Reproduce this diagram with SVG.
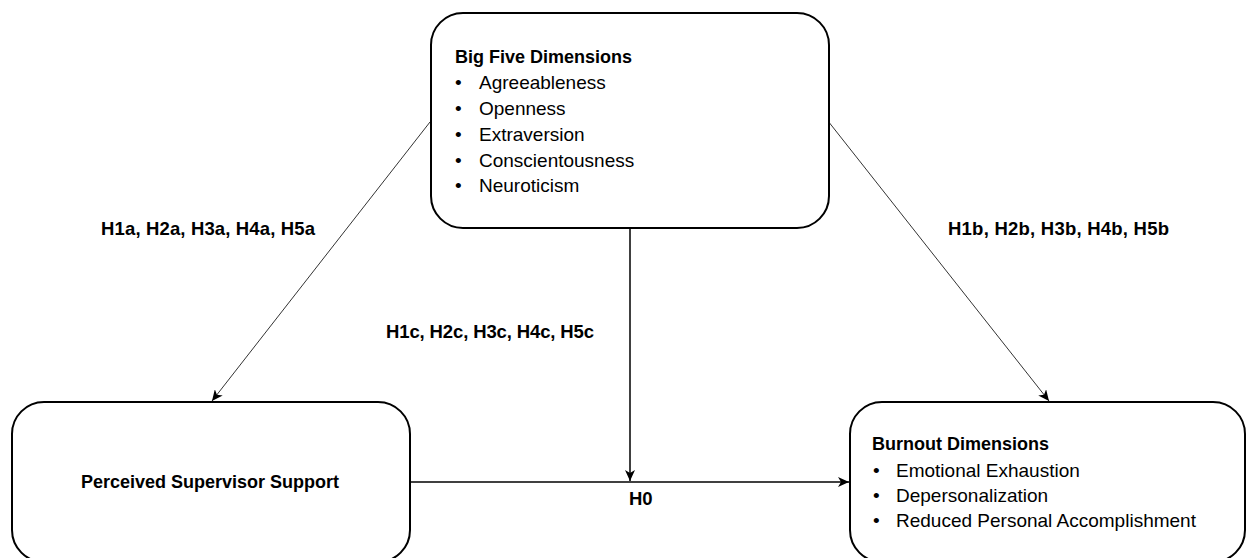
<svg xmlns="http://www.w3.org/2000/svg" width="1247" height="558" viewBox="0 0 1247 558">
<defs>
<style>
.box{fill:#fff;stroke:#000;stroke-width:2}
.t{font-family:"Liberation Sans",Arial,sans-serif;font-size:19px;fill:#000}
.b{font-weight:bold;font-size:18px}
.lbl{font-family:"Liberation Sans",Arial,sans-serif;font-size:18.5px;font-weight:bold;fill:#000}
.diag{stroke:#333;stroke-width:1;fill:none}
.main{stroke:#000;stroke-width:1.5;fill:none}
</style>
<marker id="arr" markerWidth="12" markerHeight="10" refX="11" refY="5" orient="auto" markerUnits="userSpaceOnUse">
<path d="M0,0 L11,5 L0,10 L3,5 Z" fill="#000"/>
</marker>
</defs>
<rect width="1247" height="558" fill="#fff"/>
<g id="connectors">
<line class="diag" x1="430" y1="122" x2="212" y2="401" marker-end="url(#arr)"/>
<line class="diag" x1="828" y1="121" x2="1049" y2="401" marker-end="url(#arr)"/>
<line class="main" x1="630" y1="229" x2="630" y2="481" marker-end="url(#arr)"/>
<line class="main" x1="411" y1="482" x2="849" y2="482" marker-end="url(#arr)"/>
</g>
<g id="big-five">
<rect class="box" x="431" y="13" width="398" height="215" rx="32" ry="32"/>
<text class="t b" x="455" y="63">Big Five Dimensions</text>
<text class="t" x="455" y="89">•</text><text class="t" x="479" y="89">Agreeableness</text>
<text class="t" x="455" y="115">•</text><text class="t" x="479" y="115">Openness</text>
<text class="t" x="455" y="141">•</text><text class="t" x="479" y="141">Extraversion</text>
<text class="t" x="455" y="167">•</text><text class="t" x="479" y="167">Conscientousness</text>
<text class="t" x="455" y="192">•</text><text class="t" x="479" y="192">Neuroticism</text>
</g>
<g id="supervisor">
<rect class="box" x="12" y="402" width="398" height="160" rx="32" ry="32"/>
<text class="t b" x="210" y="488" text-anchor="middle">Perceived Supervisor Support</text>
</g>
<g id="burnout">
<rect class="box" x="850" y="402" width="395" height="160" rx="32" ry="32"/>
<text class="t b" x="872" y="450">Burnout Dimensions</text>
<text class="t" x="873" y="477">•</text><text class="t" x="896" y="477">Emotional Exhaustion</text>
<text class="t" x="873" y="502">•</text><text class="t" x="896" y="502">Depersonalization</text>
<text class="t" x="873" y="527">•</text><text class="t" x="896" y="527">Reduced Personal Accomplishment</text>
</g>
<g id="labels">
<text class="lbl" x="101" y="235" textLength="214" lengthAdjust="spacing">H1a, H2a, H3a, H4a, H5a</text>
<text class="lbl" x="948" y="235" textLength="221" lengthAdjust="spacing">H1b, H2b, H3b, H4b, H5b</text>
<text class="lbl" x="386" y="338" textLength="208" lengthAdjust="spacing">H1c, H2c, H3c, H4c, H5c</text>
<text class="lbl" x="629" y="505">H0</text>
</g>
</svg>
